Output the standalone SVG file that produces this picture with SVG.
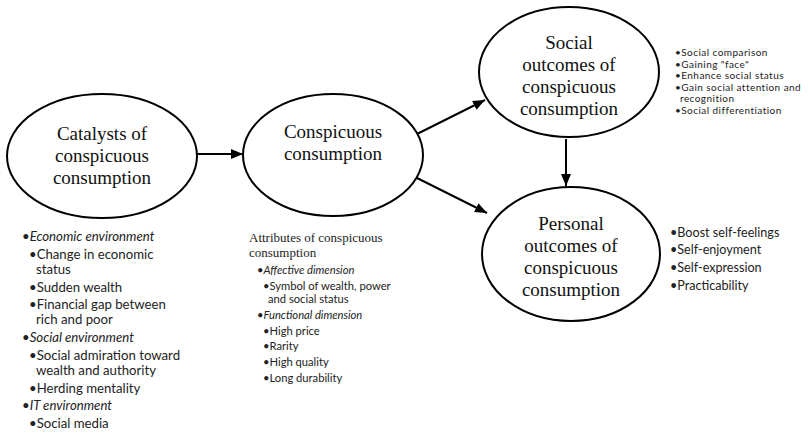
<svg xmlns="http://www.w3.org/2000/svg" width="809" height="434" viewBox="0 0 809 434">
<style>
.node ellipse{fill:#fff;stroke:#000;stroke-width:2}
.nt{font-family:"Liberation Serif",serif;font-size:19px;fill:#111;text-anchor:middle}
.conn line{stroke:#000;stroke-width:2}
.b{font-family:Lato,"Noto Sans",sans-serif;fill:#222}
.s13{font-size:13.2px}
.s11{font-size:11.2px}
.s10{font-size:10px;letter-spacing:0.45px}
.s12{font-size:12.6px}
.it{font-style:italic}
.serif{font-family:"Liberation Serif",serif;font-size:13px;fill:#222}
</style>
<defs>
<marker id="ah" viewBox="0 0 12 10" refX="12" refY="5" markerWidth="12" markerHeight="10" markerUnits="userSpaceOnUse" orient="auto">
<path d="M0,0 L12,5 L0,10 Z" fill="#000"/>
</marker>
</defs>
<rect width="809" height="434" fill="#fff"/>
<g class="conn">
<line x1="197" y1="154" x2="243" y2="154" marker-end="url(#ah)"/>
<line x1="417" y1="134" x2="485" y2="100" marker-end="url(#ah)"/>
<line x1="417" y1="178" x2="487" y2="213" marker-end="url(#ah)"/>
<line x1="566" y1="139" x2="566" y2="186" marker-end="url(#ah)"/>
</g>
<g id="catalysts" class="node">
<ellipse cx="102" cy="156" rx="95" ry="62"/>
<text class="nt" x="102" y="140">Catalysts of</text>
<text class="nt" x="102" y="162">conspicuous</text>
<text class="nt" x="102" y="184">consumption</text>
</g>
<g id="conspicuous" class="node">
<ellipse cx="333" cy="155" rx="90" ry="61"/>
<text class="nt" x="333" y="138">Conspicuous</text>
<text class="nt" x="333" y="160">consumption</text>
</g>
<g id="social" class="node">
<ellipse cx="569" cy="72" rx="90" ry="65"/>
<text class="nt" x="569" y="49">Social</text>
<text class="nt" x="569" y="71">outcomes of</text>
<text class="nt" x="569" y="93">conspicuous</text>
<text class="nt" x="569" y="115">consumption</text>
</g>
<g id="personal" class="node">
<ellipse cx="571" cy="254" rx="89" ry="67"/>
<text class="nt" x="571" y="230">Personal</text>
<text class="nt" x="571" y="252">outcomes of</text>
<text class="nt" x="571" y="274">conspicuous</text>
<text class="nt" x="571" y="296">consumption</text>
</g>
<g id="catalysts-list" class="b s13">
<text x="22" y="241">•<tspan class="it">Economic environment</tspan></text>
<text x="29" y="259">•Change in economic</text>
<text x="36" y="274">status</text>
<text x="29" y="292">•Sudden wealth</text>
<text x="29" y="309">•Financial gap between</text>
<text x="36" y="324">rich and poor</text>
<text x="22" y="342">•<tspan class="it">Social environment</tspan></text>
<text x="29" y="360">•Social admiration toward</text>
<text x="36" y="375">wealth and authority</text>
<text x="29" y="393">•Herding mentality</text>
<text x="22" y="410">•<tspan class="it">IT environment</tspan></text>
<text x="29" y="428">•Social media</text>
</g>
<g id="attributes-list">
<text class="serif" x="249" y="242">Attributes of conspicuous</text>
<text class="serif" x="249" y="257">consumption</text>
<g class="b s11">
<text x="257" y="274">•<tspan class="it">Affective dimension</tspan></text>
<text x="263" y="290">•Symbol of wealth, power</text>
<text x="268" y="303">and social status</text>
<text x="257" y="319">•<tspan class="it">Functional dimension</tspan></text>
<text x="263" y="335">•High price</text>
<text x="263" y="350">•Rarity</text>
<text x="263" y="366">•High quality</text>
<text x="263" y="382">•Long durability</text>
</g>
</g>
<g id="social-list" class="b s10">
<text x="675" y="56">•Social comparison</text>
<text x="675" y="67.5">•Gaining "face"</text>
<text x="675" y="79">•Enhance social status</text>
<text x="675" y="90.5">•Gain social attention and</text>
<text x="680" y="102">recognition</text>
<text x="675" y="113.5">•Social differentiation</text>
</g>
<g id="personal-list" class="b s12">
<text x="670" y="237">•Boost self-feelings</text>
<text x="670" y="254">•Self-enjoyment</text>
<text x="670" y="272">•Self-expression</text>
<text x="670" y="290">•Practicability</text>
</g>
</svg>
